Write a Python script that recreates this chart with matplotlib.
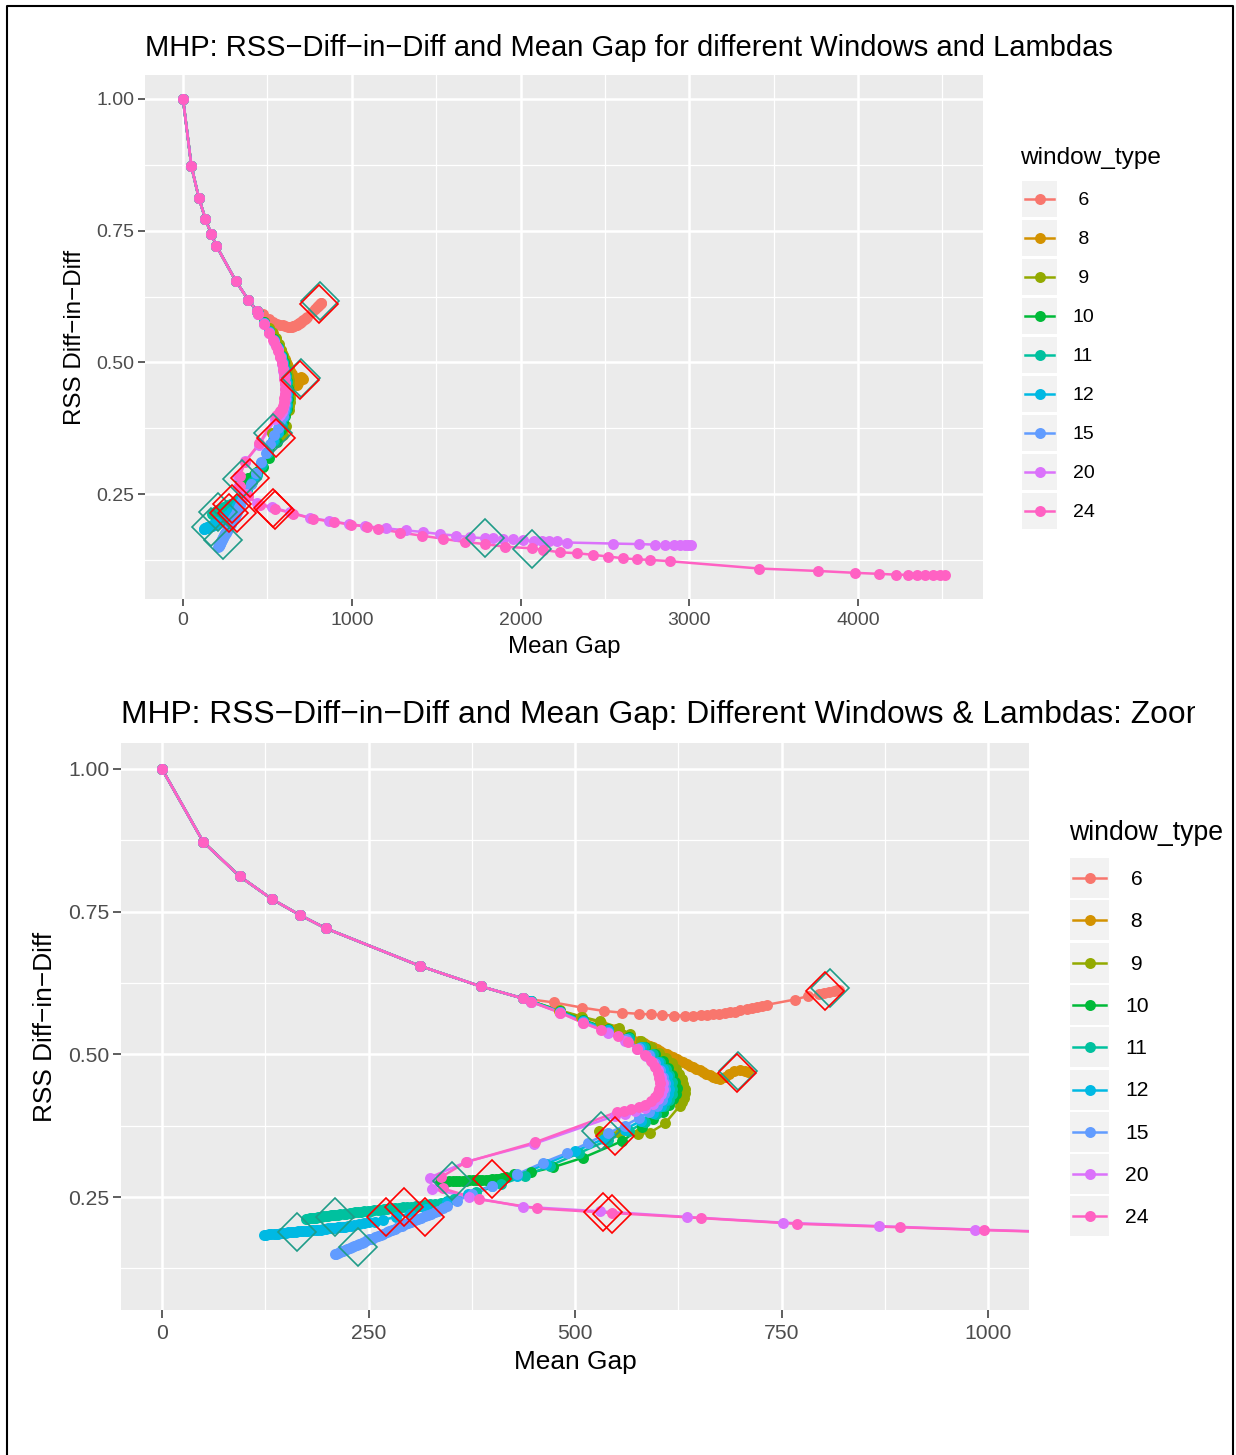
import matplotlib
matplotlib.use('Agg')
import matplotlib.pyplot as plt
from matplotlib.patches import Rectangle

plt.rcParams['font.family'] = ['Liberation Sans', 'DejaVu Sans']

# ---------------- data ----------------
window_types = [6, 8, 9, 10, 11, 12, 15, 20, 24]
colors = ["#F8766D", "#D39200", "#93AA00", "#00BA38", "#00C19F",
          "#00B9E3", "#619CFF", "#DB72FB", "#FF61C3"]

head_gap = [0, 50, 94, 133, 167, 198, 312, 386, 437]
head_rss = [1.0, 0.872, 0.812, 0.772, 0.744, 0.721, 0.655, 0.619, 0.598]

gap_6 = head_gap + [474, 508, 535, 557, 577, 592, 605, 620, 633, 643, 652, 660, 667, 674, 681,
                    688, 694, 700, 708, 714, 720, 726, 733, 766, 782, 795, 802, 808, 813, 817, 820]
rss_6 = head_rss + [0.591, 0.582, 0.576, 0.573, 0.571, 0.570, 0.569, 0.568, 0.568, 0.568, 0.569,
                    0.569, 0.570, 0.571, 0.572, 0.574, 0.575, 0.577, 0.579, 0.581, 0.583, 0.585,
                    0.587, 0.596, 0.602, 0.605, 0.607, 0.609, 0.611, 0.612, 0.613]

gap_8 = head_gap + [447, 481, 507, 532, 550, 567, 578, 583, 587, 591,
                    595, 599, 603, 607, 611, 615, 619, 623, 627, 631,
                    635, 639, 643, 647, 651, 655, 659, 663, 667, 671,
                    676, 681, 686, 692, 700, 706, 710]
rss_8 = head_rss + [0.593, 0.576, 0.566, 0.555, 0.544, 0.532, 0.524, 0.520, 0.517, 0.514,
                    0.512, 0.509, 0.506, 0.503, 0.500, 0.497, 0.495, 0.492, 0.489, 0.486,
                    0.483, 0.480, 0.478, 0.475, 0.472, 0.469, 0.466, 0.463, 0.461, 0.458,
                    0.457, 0.460, 0.466, 0.471, 0.473, 0.471, 0.469]

gap_9 = head_gap + [447, 482, 508, 530, 553, 567, 580, 592, 602, 610, 617, 622, 626, 629, 631,
                    633, 633, 632, 630, 627, 609, 591, 576, 555, 529]
rss_9 = head_rss + [0.593, 0.577, 0.566, 0.558, 0.547, 0.535, 0.524, 0.513, 0.503, 0.493, 0.484,
                    0.475, 0.466, 0.457, 0.448, 0.440, 0.432, 0.424, 0.417, 0.410, 0.379, 0.363,
                    0.360, 0.362, 0.366]

gap_10 = head_gap + [447, 482, 510, 540, 565, 585, 597, 606, 613, 618,
                     621, 623, 622, 619, 614, 606, 595, 581, 557, 510,
                     473, 447, 426, 416, 412, 408, 404, 400, 396, 392,
                     388, 384, 380, 376, 372, 368, 364, 360, 356, 352,
                     348, 344, 341, 338, 336]
rss_10 = head_rss + [0.593, 0.576, 0.560, 0.545, 0.530, 0.513, 0.500, 0.488, 0.476, 0.464,
                     0.452, 0.441, 0.431, 0.421, 0.411, 0.399, 0.386, 0.372, 0.348, 0.319,
                     0.302, 0.293, 0.290, 0.285, 0.283, 0.282, 0.281, 0.281, 0.280, 0.280,
                     0.280, 0.279, 0.279, 0.279, 0.279, 0.278, 0.278, 0.278, 0.278, 0.278,
                     0.278, 0.277, 0.277, 0.277, 0.277]

gap_11 = head_gap + [447, 482, 510, 540, 565, 583, 594, 603, 610, 614,
                     617, 618, 617, 614, 608, 598, 585, 565, 540, 505,
                     470, 440, 410, 380, 354, 345, 338, 331, 325, 319,
                     313, 307, 302, 297, 292, 287, 282, 277, 273, 269,
                     265, 261, 257, 253, 249, 245, 241, 237, 234, 230,
                     227, 223, 220, 216, 213, 210, 207, 204, 201, 198,
                     195, 192, 189, 186, 184, 181, 179, 176, 174]
rss_11 = head_rss + [0.593, 0.575, 0.559, 0.543, 0.528, 0.513, 0.500, 0.487, 0.475, 0.463,
                     0.451, 0.440, 0.430, 0.420, 0.409, 0.396, 0.382, 0.365, 0.350, 0.327,
                     0.305, 0.287, 0.272, 0.258, 0.246, 0.243, 0.240, 0.238, 0.237, 0.236,
                     0.235, 0.234, 0.233, 0.232, 0.232, 0.231, 0.231, 0.230, 0.229, 0.229,
                     0.228, 0.227, 0.227, 0.226, 0.226, 0.225, 0.224, 0.223, 0.223, 0.222,
                     0.222, 0.221, 0.221, 0.220, 0.219, 0.219, 0.218, 0.218, 0.217, 0.216,
                     0.216, 0.215, 0.215, 0.214, 0.214, 0.213, 0.213, 0.212, 0.2115]

gap_12 = head_gap + [447, 482, 510, 540, 563, 580, 591, 600, 606, 611,
                     613, 614, 613, 610, 604, 594, 580, 560, 535, 500,
                     465, 430, 400, 370, 345, 320, 300, 283, 268, 258,
                     250, 244, 238, 233, 229, 225, 222, 219, 216, 213,
                     210, 207, 204, 201, 198, 195, 192, 189, 186, 183,
                     180, 177, 174, 171, 168, 165, 162, 159, 156, 153,
                     150, 147, 144, 141, 138, 135, 132, 129, 126, 123]
rss_12 = head_rss + [0.593, 0.574, 0.558, 0.542, 0.527, 0.512, 0.499, 0.486, 0.474, 0.462,
                     0.450, 0.440, 0.430, 0.420, 0.409, 0.397, 0.384, 0.368, 0.352, 0.330,
                     0.308, 0.287, 0.270, 0.255, 0.241, 0.229, 0.221, 0.215, 0.210, 0.207,
                     0.206, 0.204, 0.202, 0.201, 0.200, 0.199, 0.198, 0.198, 0.197, 0.197,
                     0.196, 0.196, 0.195, 0.195, 0.194, 0.194, 0.193, 0.193, 0.193, 0.192,
                     0.192, 0.191, 0.191, 0.190, 0.190, 0.190, 0.189, 0.189, 0.188, 0.188,
                     0.187, 0.187, 0.187, 0.186, 0.186, 0.185, 0.185, 0.185, 0.184, 0.184]

gap_15 = head_gap + [447, 482, 510, 540, 562, 578, 589, 597, 603, 607,
                     609, 609, 608, 605, 599, 590, 577, 560, 540, 516,
                     490, 461, 430, 400, 375, 357, 345, 340, 334, 330,
                     326, 322, 318, 314, 310, 306, 302, 298, 294, 290,
                     286, 282, 279, 275, 272, 268, 265, 261, 258, 254,
                     251, 248, 245, 242, 239, 236, 233, 230, 227, 224,
                     222, 219, 217, 215, 213, 211, 209]
rss_15 = head_rss + [0.592, 0.574, 0.557, 0.540, 0.526, 0.511, 0.498, 0.485, 0.473, 0.461,
                     0.450, 0.440, 0.430, 0.420, 0.410, 0.399, 0.388, 0.375, 0.362, 0.345,
                     0.327, 0.310, 0.290, 0.270, 0.255, 0.243, 0.234, 0.230, 0.226, 0.223,
                     0.221, 0.218, 0.216, 0.213, 0.211, 0.209, 0.207, 0.204, 0.202, 0.199,
                     0.197, 0.194, 0.193, 0.190, 0.188, 0.186, 0.184, 0.182, 0.180, 0.177,
                     0.176, 0.174, 0.172, 0.170, 0.168, 0.166, 0.165, 0.163, 0.161, 0.159,
                     0.158, 0.156, 0.155, 0.154, 0.152, 0.151, 0.150]

gap_20 = head_gap + [447, 482, 510, 540, 560, 575, 586, 594, 600, 604, 606, 606, 604, 600, 594,
                     585, 573, 560, 548, 450, 369, 324, 327, 372, 437, 530, 636, 752, 868, 984,
                     1080, 1200, 1320, 1420, 1520, 1620, 1700, 1790, 1839, 1899, 1958, 2017,
                     2077, 2126, 2166, 2215, 2278, 2547, 2705, 2798, 2857, 2907, 2946, 2976,
                     2995, 3010]
rss_20 = head_rss + [0.592, 0.573, 0.555, 0.538, 0.524, 0.510, 0.497, 0.484, 0.472, 0.460, 0.450,
                     0.440, 0.430, 0.421, 0.413, 0.406, 0.400, 0.396, 0.392, 0.343, 0.312, 0.284,
                     0.264, 0.250, 0.233, 0.225, 0.215, 0.205, 0.199, 0.193, 0.189, 0.185, 0.181,
                     0.178, 0.174, 0.171, 0.168, 0.166, 0.166, 0.165, 0.164, 0.162, 0.161, 0.161,
                     0.160, 0.160, 0.158, 0.156, 0.155, 0.154, 0.154, 0.154, 0.154, 0.154, 0.154,
                     0.154]

gap_24 = head_gap + [447, 482, 510, 532, 552, 564, 575, 585, 592, 597, 600, 602, 603, 602, 600,
                     597, 592, 585, 577, 568, 559, 551, 452, 368, 338, 340, 384, 454, 545, 653,
                     769, 893, 995, 1089, 1157, 1286, 1414, 1543, 1671, 1790, 1908, 2066, 2131,
                     2234, 2337, 2432, 2521, 2610, 2689, 2768, 2883, 3415, 3761, 3982, 4126,
                     4223, 4294, 4348, 4397, 4446, 4486, 4516]
rss_24 = head_rss + [0.592, 0.573, 0.555, 0.543, 0.532, 0.521, 0.510, 0.499, 0.488, 0.478, 0.468,
                     0.458, 0.449, 0.440, 0.432, 0.425, 0.418, 0.412, 0.407, 0.404, 0.401, 0.399,
                     0.346, 0.311, 0.285, 0.265, 0.246, 0.230, 0.222, 0.213, 0.203, 0.197, 0.192,
                     0.188, 0.184, 0.177, 0.171, 0.165, 0.159, 0.155, 0.150, 0.147, 0.144, 0.1395,
                     0.1376, 0.1345, 0.1313, 0.128, 0.126, 0.125, 0.1225, 0.1086, 0.104, 0.1004,
                     0.0985, 0.097, 0.0966, 0.0965, 0.0965, 0.0965, 0.0965, 0.0965]

series_gap = [gap_6, gap_8, gap_9, gap_10, gap_11, gap_12, gap_15, gap_20, gap_24]
series_rss = [rss_6, rss_8, rss_9, rss_10, rss_11, rss_12, rss_15, rss_20, rss_24]

# highlighted (optimal) points
teal_gap = [809, 697, 532, 351, 209, 164, 237, 1790, 2066]
teal_rss = [0.617, 0.471, 0.366, 0.278, 0.215, 0.188, 0.162, 0.166, 0.146]
red_gap = [803, 696, 549, 399, 293, 271, 318, 534, 545]
red_rss = [0.611, 0.467, 0.357, 0.281, 0.232, 0.2145, 0.2145, 0.223, 0.220]

x_major_top = [0, 1000, 2000, 3000, 4000]
x_minor_top = [500, 1500, 2500, 3500, 4500]
x_major_bot = [0, 250, 500, 750, 1000]
x_minor_bot = [125, 375, 625, 875]
y_major = [0.25, 0.50, 0.75, 1.00]
y_minor = [0.125, 0.375, 0.625, 0.875]

title_top = "MHP: RSS\u2212Diff\u2212in\u2212Diff and Mean Gap for different Windows and Lambdas"
title_bot = "MHP: RSS\u2212Diff\u2212in\u2212Diff and Mean Gap: Different Windows & Lambdas: Zoom"
xlabel = "Mean Gap"
ylabel = "RSS Diff\u2212in\u2212Diff"
legend_title = "window_type"

# ---------------- figure ----------------
W, H = 1236, 1455
fig = plt.figure(figsize=(W / 100, H / 100), dpi=100)


def px_axes(left, top, right, bottom, **kw):
    return fig.add_axes([left / W, 1 - bottom / H, (right - left) / W, (bottom - top) / H], **kw)


ax1 = px_axes(144.9, 75.2, 983.2, 598.7)
ax2 = px_axes(120.7, 743.2, 1029.3, 1310.4)

all_gap = [v for s in series_gap for v in s]
all_rss = [v for s in series_rss for v in s]
xr = max(all_gap) - min(all_gap)
yr = max(all_rss) - min(all_rss)
ylim = (min(all_rss) - 0.05 * yr, max(all_rss) + 0.05 * yr)

MS = 7.9
LW = 1.8


def draw(ax, xmaj, xmin, xlim, scale, pad):
    ax.set_facecolor('#EBEBEB')
    for s in ax.spines.values():
        s.set_visible(False)
    for g, r, c in zip(series_gap, series_rss, colors):
        ax.plot(g, r, '-', color=c, lw=LW, zorder=2)
    for g, r, c in zip(series_gap, series_rss, colors):
        ax.plot(g, r, 'o', color=c, ms=MS, mew=0, zorder=3)
    ax.plot(teal_gap, teal_rss, 'D', ms=19.5, mfc='none', mec='#1F9C88', mew=1.2, zorder=4)
    ax.plot(red_gap, red_rss, 'D', ms=19.5, mfc='none', mec='#FF0000', mew=1.2, zorder=5)
    ax.set_xlim(*xlim)
    ax.set_ylim(*ylim)
    ax.set_xticks(xmaj)
    ax.set_xticks(xmin, minor=True)
    ax.set_yticks(y_major)
    ax.set_yticks(y_minor, minor=True)
    ax.set_xticklabels([str(v) for v in xmaj])
    ax.set_yticklabels([f'{v:.2f}' for v in y_major])
    ax.grid(which='major', color='white', lw=1.8)
    ax.grid(which='minor', color='white', lw=0.9)
    ax.set_axisbelow(True)
    ax.tick_params(which='major', length=5 * scale, width=1.1, color='#333333',
                   labelsize=14 * scale, labelcolor='#4D4D4D', pad=2.5 * scale)
    ax.tick_params(axis='x', which='major', pad=pad)
    ax.tick_params(which='minor', length=0)


draw(ax1, x_major_top, x_minor_top, (min(all_gap) - 0.05 * xr, max(all_gap) + 0.05 * xr), 1.0, 4.5)
draw(ax2, x_major_bot, x_minor_bot, (-50, 1050), 1.088, 4.5)

# overlay in pixel coordinates
ov = fig.add_axes([0, 0, 1, 1])
ov.set_xlim(0, W)
ov.set_ylim(H, 0)
ov.axis('off')
ov.set_zorder(-1)

# titles
ov.text(145, 56, title_top, fontsize=21.0, ha='left', va='baseline')
ov.text(121, 723, title_bot, fontsize=22.85, ha='left', va='baseline')
# the original image cuts the second title off on the right
ov.add_patch(Rectangle((1195, 690), 37, 50, facecolor='white', edgecolor='none', zorder=10))

# border
ov.plot([7, 7, 1233, 1233], [H, 6, 6, H], color='black', lw=1.5, zorder=11)

# axis labels
ov.text(564, 653, xlabel, fontsize=17.4, ha='center', va='baseline')
ov.text(575, 1369, xlabel, fontsize=18.9, ha='center', va='baseline')
ov.text(75, 337, ylabel, fontsize=17.4, ha='center', va='center', rotation=90)
ov.text(45, 1027, ylabel, fontsize=18.9, ha='center', va='center', rotation=90)


def legend(x_title, y_title, key_x0, key_w, key_h, y0, dy, label_x, fs_title, fs_lab):
    ov.text(x_title, y_title, legend_title, fontsize=fs_title, ha='left', va='center')
    for i, (w, c) in enumerate(zip(window_types, colors)):
        yc = y0 + dy * i
        ov.add_patch(Rectangle((key_x0, yc - key_h / 2), key_w, key_h,
                               facecolor='#F2F2F2', edgecolor='none'))
        ov.plot([key_x0 + 3, key_x0 + key_w - 3], [yc, yc], color=c, lw=LW)
        ov.plot([key_x0 + key_w / 2], [yc], 'o', color=c, ms=MS, mew=0)
        ov.text(label_x, yc + 1.5, f'{w:>2}', fontsize=fs_lab, ha='left', va='center')


legend(1020, 158, 1022, 35, 36, 199, 39, 1073, 17.6, 14)
legend(1069, 833, 1070, 39, 40, 878, 42.3, 1125, 19.2, 15.2)

fig.savefig('out.png', dpi=100)
